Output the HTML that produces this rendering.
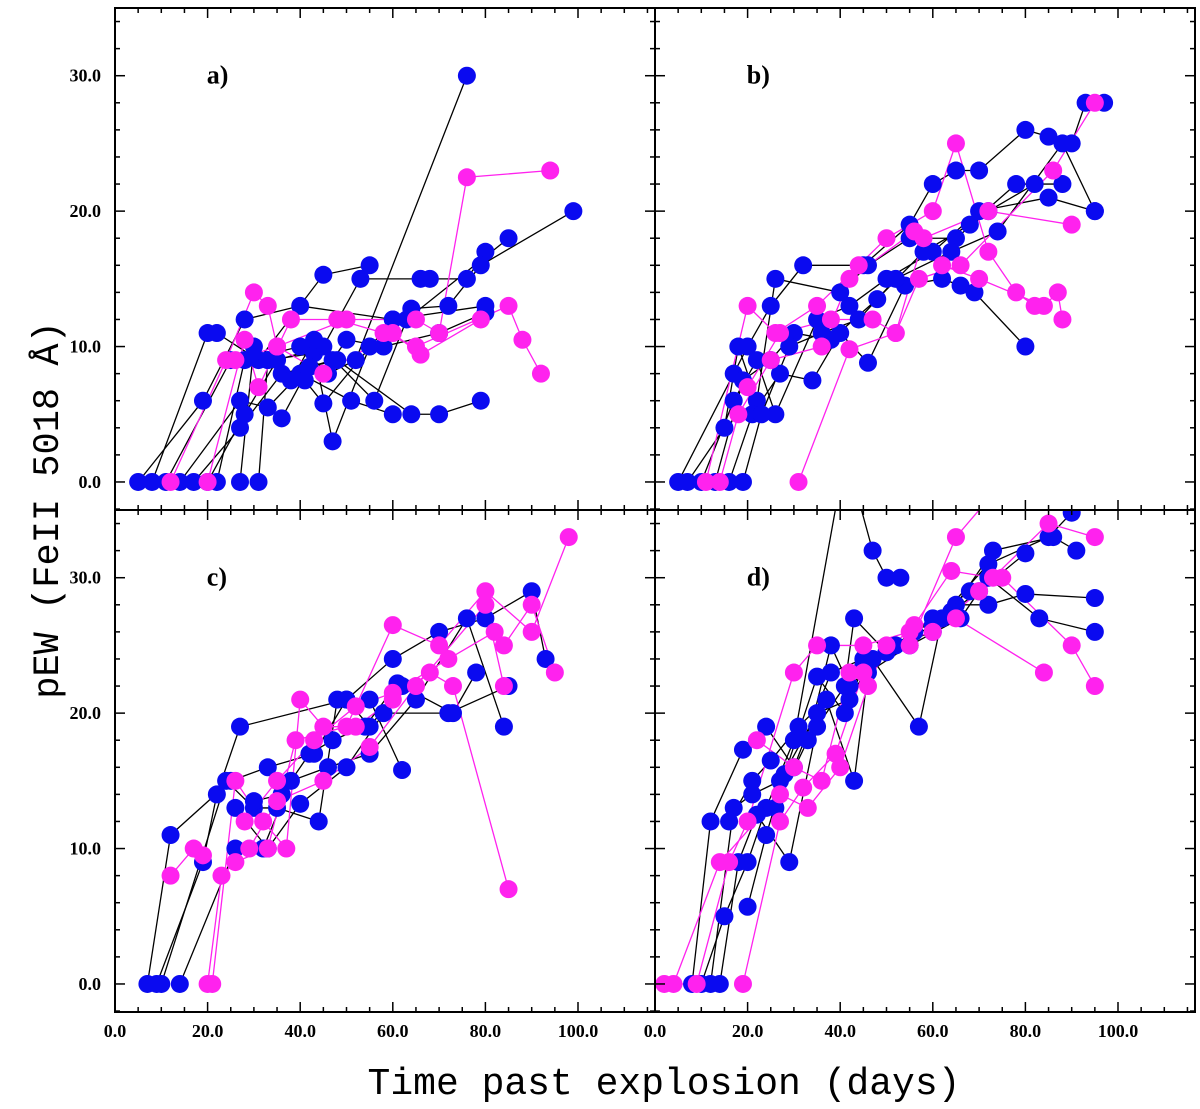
<!DOCTYPE html>
<html><head><meta charset="utf-8"><style>
body{margin:0;background:#fff;}
svg text{font-family:"Liberation Serif",serif;font-weight:bold;}
svg text.title{font-family:"Liberation Mono",monospace;font-weight:normal;}
</style></head><body>
<svg id="chart" width="1200" height="1104" viewBox="0 0 1200 1104" xmlns="http://www.w3.org/2000/svg">
<text class="title" x="0" y="0" transform="translate(58,510) rotate(-90)" text-anchor="middle" font-size="37">pEW (FeII 5018 Å)</text>
<text class="title" x="664" y="1094" text-anchor="middle" font-size="38">Time past explosion (days)</text>
</svg>
<script>
const panelLabels=['a)','b)','c)','d)'];
const xTicks=[0,20,40,60,80,100];
const xTickLabels=['0.0','20.0','40.0','60.0','80.0','100.0'];
const yTicks=[0,10,20,30];
const yTickLabels=['0.0','10.0','20.0','30.0'];
const blueA=[
[[5,0],[19,6],[28,12],[40,13],[60,12],[80,13]],
[[8,0],[20,11],[22,11],[31,9],[45,15.3],[55,16]],
[[11,0],[25,9],[33,9],[43,9.5],[47,3],[55,10]],
[[14,0],[27,6],[33,5.5],[40,8],[51,6],[60,5]],
[[17,0],[27,4],[36,8],[48,9],[64,5],[70,5],[79,6]],
[[20,0],[28,5],[35,9],[45,10],[53,15],[66,15],[68,15],[76,15],[80,17]],
[[22,0],[28,9],[40,10],[46,8],[52,9],[76,30]],
[[27,0],[30,10],[38,7.5],[43,10.5],[56,6],[63,12],[85,18]],
[[31,0],[33,9],[41,7.5],[45,5.8],[60,12],[64,12.8],[72,13],[79,16],[99,20]],
[[36,4.7],[42,8.5],[47,9],[50,10.5],[58,10],[70,11],[80,12.5]]];
const magA=[
[[12,0],[24,9],[30,14],[33,13],[35,10],[50,12],[65,12],[70,11],[76,22.5],[94,23]],
[[20,0],[28,10.5],[31,7],[38,12],[48,12],[58,11],[65,10],[85,13],[88,10.5],[92,8]],
[[26,9],[35,10],[45,8],[60,11],[66,9.4],[79,12]]];
const blueB=[
[[5,0],[17,8],[20,10],[25,13],[32,16],[45,16],[55,19],[60,22],[65,23],[70,23],[80,26],[85,25.5],[90,25],[93,28],[97,28]],
[[7,0],[15,4],[18,10],[22,6],[26,15],[40,14],[46,16],[55,18],[65,18],[72,20],[82,22]],
[[10,0],[17,6],[22,9],[26,5],[35,12],[42,13],[50,15],[60,17],[70,20],[85,21],[95,20]],
[[13,0],[19,7.5],[25,9],[30,11],[38,10.5],[48,13.5],[58,17],[68,19],[78,22],[88,22]],
[[16,0],[21,5],[27,8],[34,7.5],[40,11],[46,8.8],[54,14.5],[62,15],[66,14.5],[69,14],[80,10]],
[[19,0],[23,5],[29,10],[36,11],[44,12],[52,15],[64,17],[74,18.5],[88,25],[95,20]]];
const magB=[
[[11,0],[20,13],[26,11],[35,13],[44,16],[50,18],[60,20],[65,25],[72,17],[78,14],[82,13]],
[[14,0],[18,5],[25,9],[36,10],[42,15],[56,18.5],[62,16],[70,15],[84,13],[87,14],[88,12]],
[[31,0],[42,9.8],[52,11],[57,15],[66,16],[86,23],[95,28]],
[[20,7],[27,11],[38,12],[47,12],[52,11],[58,18],[72,20],[90,19]]];
const blueC=[
[[7,0],[12,11],[25,15],[33,16],[43,17],[50,21],[60,24],[70,26],[80,27],[90,29],[93,24]],
[[9,0],[19,9],[22,14],[27,19],[50,21],[55,19],[62,22],[73,20],[78,23]],
[[10,0],[24,15],[30,13],[35,13],[44,12],[48,21],[55,21],[62,15.8]],
[[14,0],[26,10],[32,10],[38,15],[46,16],[55,17],[65,21],[76,27],[84,19]],
[[26,13],[33,10],[40,13.3],[50,16],[58,20],[72,20],[85,22]],
[[30,13.5],[36,14],[42,17],[47,18],[54,19],[61,22.2]]];
const magC=[
[[12,8],[17,10],[19,9.5]],
[[20,0],[23,8],[26,9],[33,10],[39,18],[50,19],[60,26.5],[70,25],[80,29],[90,26],[98,33]],
[[21,0],[26,15],[32,12],[37,10],[40,21],[45,19],[52,19],[60,21],[68,23],[73,22],[85,7]],
[[28,12],[35,15],[43,18],[52,20.5],[60,21.5],[72,24],[82,26],[84,25],[90,28],[95,23]],
[[29,10],[35,13.5],[45,15],[55,17.5],[65,22],[80,28],[84,22]]];
const blueD=[
[[8,0],[12,12],[19,17.3],[24,19],[30,16],[38,23],[45,24],[52,25],[60,26],[65,28],[72,28],[80,28.8],[95,28.5]],
[[10,0],[15,5],[20,9],[24,13],[30,18],[40,37]],
[[43,37],[47,32],[50,30],[53,30]],
[[12,0],[17,13],[21,14],[27,15],[35,20],[42,21],[47,24],[57,19],[62,27],[70,29],[80,31.8]],
[[14,0],[18,9],[22,12.5],[29,9],[35,19],[41,22],[43,27],[50,24.5],[60,26.5],[72,31],[85,33],[90,34.8]],
[[16,12],[21,15],[25,16.5],[31,19],[37,21],[43,15],[46,23],[55,25],[66,27],[72,30],[83,27],[95,26]],
[[20,5.7],[24,11],[28,15.5],[35,22.7],[41,20],[45,23.5],[56,26],[64,27.5],[73,32],[86,33],[91,32]],
[[26,13],[33,18],[38,25],[42,22],[50,24.5],[60,27],[68,29]]];
const magD=[
[[2,0],[9,0],[16,9],[20,12],[30,23],[35,25],[45,25],[55,26],[64,30.5],[73,30],[85,34],[95,33]],
[[4,0],[14,9],[27,14],[33,13],[40,16],[46,22],[50,25],[60,26],[70,29],[75,30],[90,25],[95,22]],
[[19,0],[27,12],[32,14.5],[39,17],[45,23],[56,26.5],[65,27],[84,23]],
[[22,18],[30,16],[36,15],[42,23],[55,25],[65,33],[75,37]]];
const panelBlue=[blueA,blueB,blueC,blueD];
const panelMag=[magA,magB,magC,magD];

const NS='http://www.w3.org/2000/svg';
const svg=document.getElementById('chart');
const PX=[115,655], PY=[8,510], PW=540, PH=502;
const XMAX=540/4.63, YMIN=-2.07, YMAX=35;
function mk(tag,attrs,parent){const e=document.createElementNS(NS,tag);for(const k in attrs)e.setAttribute(k,attrs[k]);(parent||svg).appendChild(e);return e;}
const defs=mk('defs',{});
for(let p=0;p<4;p++){
  const x0=PX[p%2], y0=PY[Math.floor(p/2)];
  const sx=v=>x0+v/XMAX*PW;
  const sy=v=>y0+PH-(v-YMIN)/(YMAX-YMIN)*PH;
  const cp=mk('clipPath',{id:'clip'+p},defs);
  mk('rect',{x:x0,y:y0,width:PW,height:PH},cp);
  const g=mk('g',{'clip-path':'url(#clip'+p+')'});
  
  
  const groups=[[panelBlue[p],'#000','#0a0af0','blue'],[panelMag[p],'#ff22ee','#ff22ee','magenta']];
  groups.forEach(([sets,lc,mc,nm])=>{
    sets.forEach((s,i)=>{
      const pl=mk('polyline',{points:s.map(d=>sx(d[0])+','+sy(d[1])).join(' '),fill:'none',stroke:lc,'stroke-width':1.3},g);
      
      
    });
  });
  groups.forEach(([sets,lc,mc,nm])=>{
    sets.forEach((s,i)=>{
      s.forEach(d=>{
        const c=mk('circle',{cx:sx(d[0]),cy:sy(d[1]),r:9,fill:mc},g);
        
        
      });
    });
  });
  const fr=mk('rect',{x:x0,y:y0,width:PW,height:PH,fill:'none',stroke:'#000','stroke-width':2});
  
  
  for(let v=0;v<=XMAX;v+=5){
    const L=(v%20===0)?10:5;
    mk('line',{x1:sx(v),x2:sx(v),y1:y0+PH,y2:y0+PH-L,stroke:'#000','stroke-width':1.5});
    mk('line',{x1:sx(v),x2:sx(v),y1:y0,y2:y0+L,stroke:'#000','stroke-width':1.5});
  }
  for(let v=-2;v<=YMAX;v+=2){
    const L=(v%10===0)?10:5;
    mk('line',{x1:x0,x2:x0+L,y1:sy(v),y2:sy(v),stroke:'#000','stroke-width':1.5});
    mk('line',{x1:x0+PW,x2:x0+PW-L,y1:sy(v),y2:sy(v),stroke:'#000','stroke-width':1.5});
  }
  const lab=mk('text',{x:x0+PW*0.17,y:sy(30)+8,'font-size':26});
  lab.textContent=panelLabels[p];
  
  
  if(p%2===0){
    yTicks.forEach((v,i)=>{
      const t=mk('text',{x:x0-14,y:sy(v)+6,'text-anchor':'end','font-size':18});
      t.textContent=yTickLabels[i];
      
      
    });
  }
  if(p>=2){
    xTicks.forEach((v,i)=>{
      const t=mk('text',{x:sx(v),y:y0+PH+25,'text-anchor':'middle','font-size':18});
      t.textContent=xTickLabels[i];
      
      
    });
  }
}
</script>
</body></html>
